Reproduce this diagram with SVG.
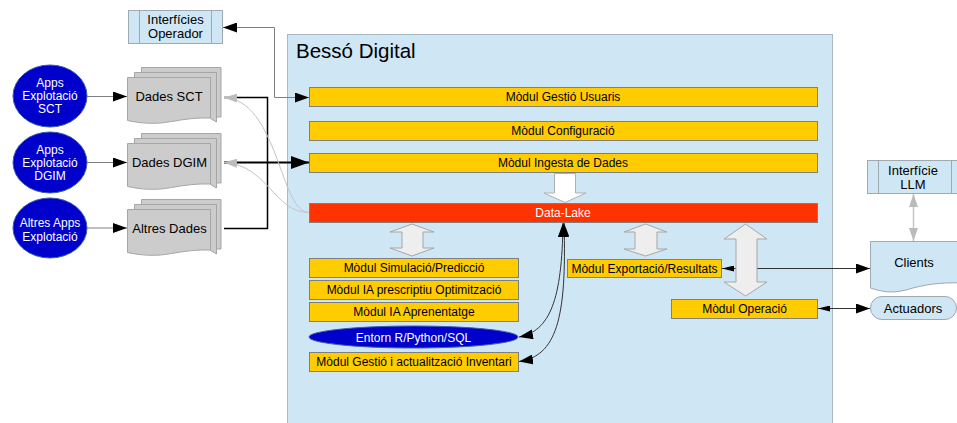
<svg xmlns="http://www.w3.org/2000/svg" xmlns:xlink="http://www.w3.org/1999/xlink" width="957" height="423" viewBox="0 0 957 423">
<style>
text{font-family:"Liberation Sans",Arial,sans-serif;}
.t12{font-size:12px;text-anchor:middle;fill:#000;}
.t13{font-size:13px;text-anchor:middle;fill:#000;}
.w12{font-size:12px;text-anchor:middle;fill:#fff;}
.mod{fill:#ffcc00;stroke:#7f7f7f;stroke-width:1;}
.lake{fill:#ff3300;stroke:#7f7f7f;stroke-width:1;}
.lb{fill:#cfe7f5;stroke:#a0a8b0;stroke-width:1;}
.app{fill:#0000cc;stroke:#3a5fa8;stroke-width:1;}
.doc{fill:#cccccc;stroke:#a6a6a6;stroke-width:1;stroke-linejoin:round;}
.blk{fill:#eeeeee;stroke:#a6a6a6;stroke-width:1;}
.wht{fill:#ffffff;stroke:#b0b0b0;stroke-width:1;}
.cg{fill:none;stroke:#808080;stroke-width:1;}
.ck{fill:none;stroke:#000;stroke-width:1.5;}
.cd{fill:none;stroke:#333;stroke-width:1;}
.cl{fill:none;stroke:#c4c4c4;stroke-width:1;}
</style>
<defs>
<marker id="aB" markerUnits="userSpaceOnUse" viewBox="0 0 14 10" markerWidth="14" markerHeight="10" refX="14" refY="5" orient="auto-start-reverse"><path d="M0,0 L14,5 L0,10 z" fill="#000"/></marker>
<marker id="aBig" markerUnits="userSpaceOnUse" viewBox="0 0 18 13" markerWidth="18" markerHeight="13" refX="18" refY="6.5" orient="auto-start-reverse"><path d="M0,0 L18,6.5 L0,13 z" fill="#000"/></marker>
<marker id="aS" markerUnits="userSpaceOnUse" viewBox="0 0 12 6" markerWidth="12" markerHeight="6" refX="12" refY="3" orient="auto-start-reverse"><path d="M0,0 L12,3 L0,6 z" fill="#000"/></marker>
<marker id="aG" markerUnits="userSpaceOnUse" viewBox="0 0 13 9" markerWidth="13" markerHeight="9" refX="13" refY="4.5" orient="auto-start-reverse"><path d="M0,0 L13,4.5 L0,9 z" fill="#bbbbbb"/></marker>
<g id="multidoc">
<polygon class="doc" points="14,-10 93.5,-10 93.5,39.5 89,39.5 89,-5 14,-5"/>
<polygon class="doc" points="7,-5 89,-5 89,44.5 83,41 83,0 7,0"/>
<path class="doc" d="M0,0 H83 V40.5 C70,40 58,41.5 44,44 C28,47 14,46 0,43 Z"/>
</g>
</defs>

<g id="besso-digital">
<rect x="287.5" y="34.5" width="545" height="400" fill="#cfe7f5" stroke="#aab8c4" stroke-width="1"/>
<text x="296" y="58" style="font-size:20.5px;fill:#000;">Bessó Digital</text>
</g>

<g id="interficies-operador">
<rect class="lb" x="128.5" y="10.5" width="94" height="33"/>
<line x1="139.5" y1="10.5" x2="139.5" y2="43.5" stroke="#a0a8b0"/>
<line x1="211.5" y1="10.5" x2="211.5" y2="43.5" stroke="#a0a8b0"/>
<text class="t13" x="175.5" y="24">Interfícies</text>
<text class="t13" x="175.5" y="38">Operador</text>
</g>

<g id="apps-sct">
<ellipse class="app" cx="50" cy="96" rx="37" ry="31"/>
<text class="w12" x="50" y="87">Apps</text>
<text class="w12" x="50" y="100">Explotació</text>
<text class="w12" x="50" y="113">SCT</text>
</g>
<g id="apps-dgim">
<ellipse class="app" cx="50" cy="162.5" rx="37" ry="30.5"/>
<text class="w12" x="50" y="154">Apps</text>
<text class="w12" x="50" y="167">Explotació</text>
<text class="w12" x="50" y="180">DGIM</text>
</g>
<g id="altres-apps">
<ellipse class="app" cx="50" cy="228" rx="37" ry="30"/>
<text class="w12" x="50" y="227">Altres Apps</text>
<text class="w12" x="50" y="241">Explotació</text>
</g>

<g id="dades-sct">
<use xlink:href="#multidoc" href="#multidoc" x="127.5" y="77.5"/>
<text class="t13" x="169" y="101">Dades SCT</text>
</g>
<g id="dades-dgim">
<use xlink:href="#multidoc" href="#multidoc" x="127.5" y="143.5"/>
<text class="t13" x="169.5" y="167">Dades DGIM</text>
</g>
<g id="altres-dades">
<use xlink:href="#multidoc" href="#multidoc" x="127.5" y="209.5"/>
<text class="t13" x="169.5" y="233">Altres Dades</text>
</g>

<g id="modul-gestio-usuaris">
<rect class="mod" x="309.5" y="87.5" width="508" height="19"/>
<text class="t12" x="563" y="101">Mòdul Gestió Usuaris</text>
</g>
<g id="modul-configuracio">
<rect class="mod" x="309.5" y="121.5" width="508" height="19"/>
<text class="t12" x="563" y="135">Mòdul Configuració</text>
</g>
<g id="modul-ingesta">
<rect class="mod" x="309.5" y="153.5" width="508" height="19"/>
<text class="t12" x="563" y="167">Mòdul Ingesta de Dades</text>
</g>
<g id="data-lake">
<rect class="lake" x="309.5" y="203.5" width="508" height="19"/>
<text class="w12" x="563" y="217">Data-Lake</text>
</g>

<g id="modul-simulacio">
<rect class="mod" x="309.5" y="258.5" width="209" height="19"/>
<text class="t12" x="414" y="272">Mòdul Simulació/Predicció</text>
</g>
<g id="modul-ia-prescriptiu">
<rect class="mod" x="309.5" y="280.5" width="209" height="19"/>
<text class="t12" x="414" y="294">Mòdul IA prescriptiu Optimització</text>
</g>
<g id="modul-ia-aprenentatge">
<rect class="mod" x="309.5" y="302.5" width="209" height="19"/>
<text class="t12" x="414" y="316">Mòdul IA Aprenentatge</text>
</g>
<g id="entorn">
<ellipse class="app" cx="413.5" cy="337" rx="104.5" ry="11"/>
<text class="w12" x="413.5" y="341.5">Entorn R/Python/SQL</text>
</g>
<g id="modul-inventari">
<rect class="mod" x="309.5" y="352.5" width="209" height="19"/>
<text class="t12" x="414" y="366">Mòdul Gestió i actualització Inventari</text>
</g>

<g id="modul-exportacio">
<rect class="mod" x="567.5" y="259.5" width="154" height="18"/>
<text class="t12" x="644.5" y="272.5">Mòdul Exportació/Resultats</text>
</g>
<g id="modul-operacio">
<rect class="mod" x="671.5" y="299.5" width="146" height="19"/>
<text class="t12" x="744.5" y="313">Mòdul Operació</text>
</g>

<g id="interficie-llm">
<rect class="lb" x="867.5" y="160.5" width="95" height="33"/>
<line x1="878.5" y1="160.5" x2="878.5" y2="193.5" stroke="#a0a8b0"/>
<line x1="951.5" y1="160.5" x2="951.5" y2="193.5" stroke="#a0a8b0"/>
<text class="t13" x="913" y="175">Interfície</text>
<text class="t13" x="913" y="189">LLM</text>
</g>
<g id="clients">
<path class="lb" d="M870.5,241.5 H962 V283 C940,282 922,285 906,290 C890,294 880,291 870.5,288 Z"/>
<text class="t13" x="914" y="267">Clients</text>
</g>
<g id="actuadors">
<rect class="lb" x="870.5" y="296.5" width="86" height="23" rx="11.5" ry="11.5"/>
<text class="t13" x="913" y="313">Actuadors</text>
</g>

<g id="connectors">
<path class="cg" d="M87,96.5 H127" marker-end="url(#aB)"/>
<path class="cg" d="M87,162.5 H127" marker-end="url(#aB)"/>
<path class="cg" d="M87,228 H127" marker-end="url(#aB)"/>
<path class="cg" d="M309,97.5 H274.5 V27.5 H223" marker-start="url(#aB)" marker-end="url(#aB)"/>
<path class="ck" d="M224,97.5 H267.5 V228.5 H224"/>
<path fill="none" stroke="#000" stroke-width="2.2" d="M224,162.5 H309" marker-end="url(#aBig)"/>
<path class="cl" d="M309,212.5 C280,212.5 278,100 224,97.5" marker-end="url(#aG)"/>
<path class="cl" d="M309,212.5 C274,212.5 268,165 224,162.5" marker-end="url(#aG)"/>
<path class="cd" d="M563,223 C562,300 550,331 519,337" marker-start="url(#aB)" marker-end="url(#aB)"/>
<path class="cd" d="M564,223 C567,320 556,356 519,361.5" marker-start="url(#aB)" marker-end="url(#aB)"/>
<path class="cd" d="M722,268.5 H870" marker-start="url(#aS)" marker-end="url(#aB)"/>
<path class="cd" d="M818,308.5 H870" marker-start="url(#aS)" marker-end="url(#aB)"/>
<path fill="none" stroke="#c4c4c4" stroke-width="1.5" d="M913.5,194 V241" marker-start="url(#aG)" marker-end="url(#aG)"/>
</g>

<g id="block-arrows">
<polygon class="wht" points="554.5,173.5 575.5,173.5 575.5,193 586,193 565,202.5 544,193 554.5,193"/>
<polygon class="blk" points="412,224 434,232 423,232 423,248 434,248 412,256 390,248 402,248 402,232 390,232"/>
<polygon class="blk" points="645.5,224 667,232 657,232 657,249 667,249 645.5,256 624,249 635,249 635,232 624,232"/>
<polygon class="blk" points="745.5,224 767,239 757,239 757,282 767,282 745.5,296 724,282 736,282 736,239 724,239"/>
</g>
</svg>
